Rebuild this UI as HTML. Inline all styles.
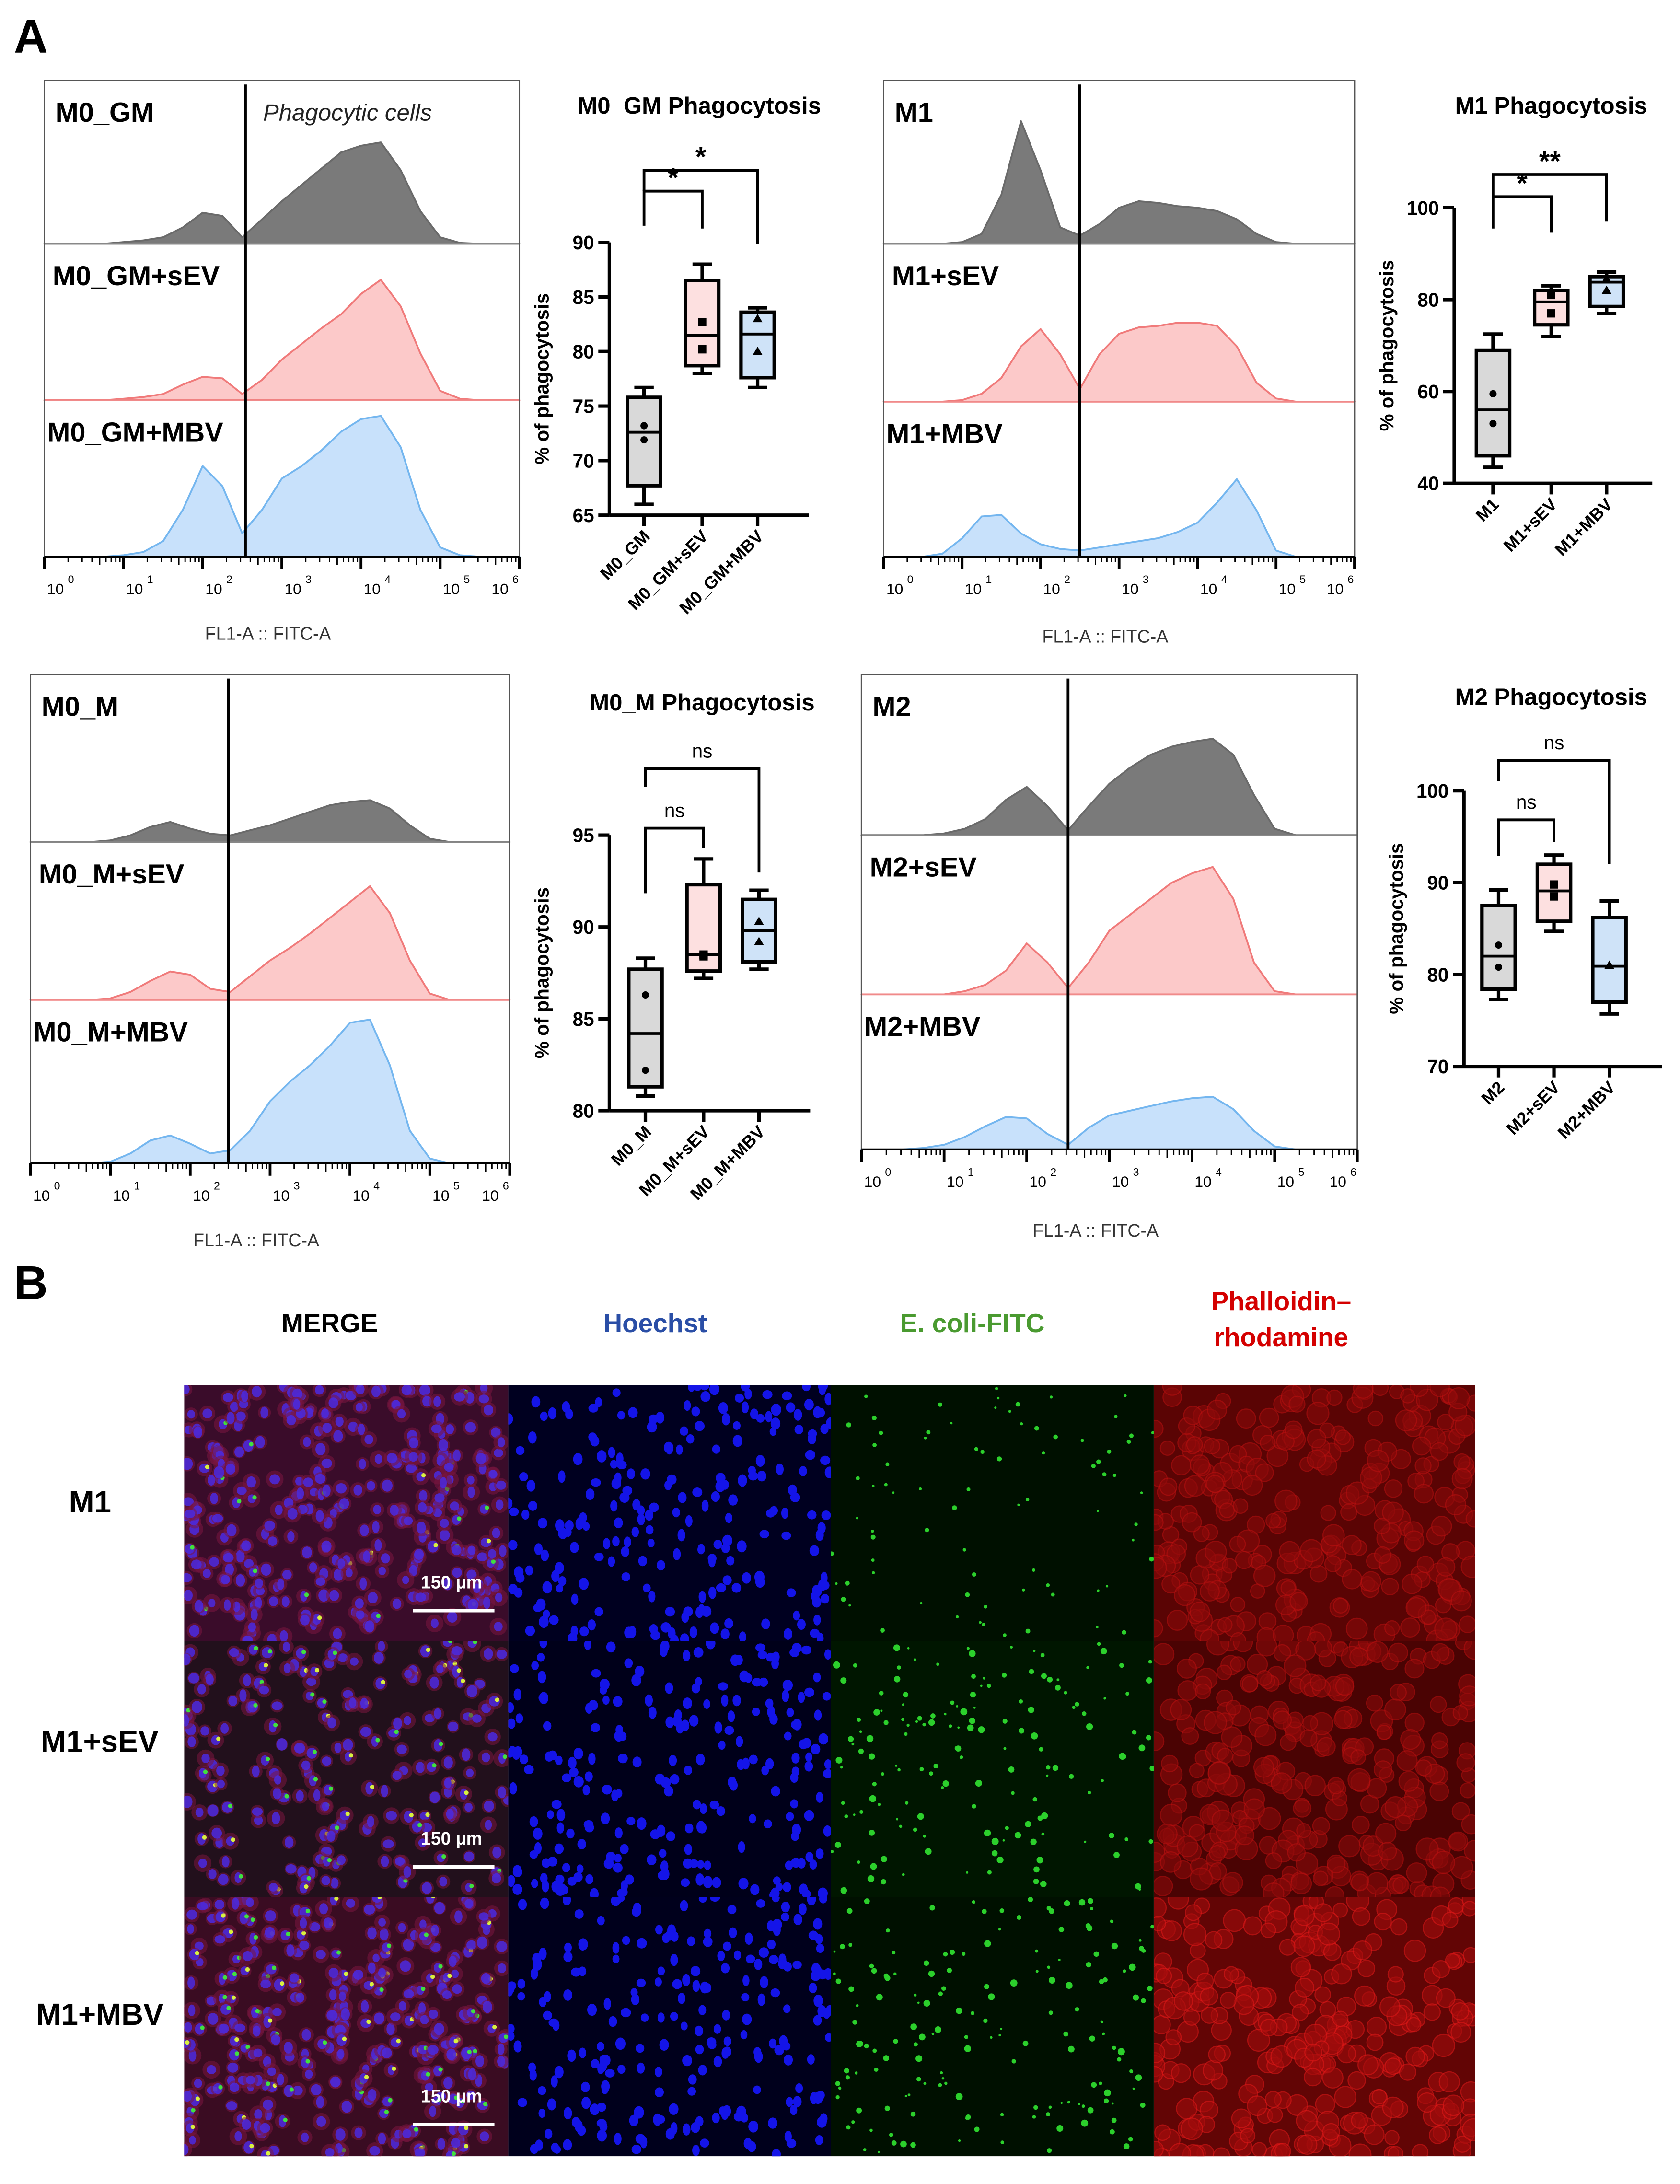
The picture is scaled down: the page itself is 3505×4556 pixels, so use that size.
<!DOCTYPE html>
<html><head><meta charset="utf-8">
<style>
html,body{margin:0;padding:0;background:#fff;}
svg{display:block;font-family:"Liberation Sans",Arial,sans-serif;}
</style></head>
<body>
<svg id="fig" xmlns="http://www.w3.org/2000/svg" width="3505" height="4556" viewBox="0 0 1213 1577" preserveAspectRatio="none">
<defs id="defs"></defs>
<rect x="0" y="0" width="1213" height="1577" fill="#fff"/>
<text x="10" y="38" font-size="34" font-weight="bold">A</text>
<text x="10" y="938" font-size="34" font-weight="bold">B</text>
<g id="charts"></g>
<g id="micro"></g>
</svg>
<script>
// ---------- Histogram data (fraction of sub-panel height at log10 = 0,0.25,...,6) ----------
const histGrid = [0,0.25,0.5,0.75,1,1.25,1.5,1.75,2,2.25,2.5,2.75,3,3.25,3.5,3.75,4,4.25,4.5,4.75,5,5.25,5.5,5.75,6];
const m0gmCtrl = [0,0,0,0,0.01,0.02,0.04,0.1,0.19,0.17,0.04,0.15,0.26,0.36,0.46,0.56,0.6,0.62,0.45,0.2,0.04,0.005,0,0,0];
const m0gmSev  = [0,0,0,0,0.01,0.02,0.04,0.1,0.15,0.14,0.04,0.13,0.26,0.36,0.46,0.55,0.68,0.77,0.6,0.3,0.06,0.01,0,0,0];
const m0gmMbv  = [0,0,0,0,0.01,0.03,0.1,0.3,0.58,0.45,0.15,0.3,0.5,0.58,0.68,0.8,0.88,0.9,0.7,0.3,0.06,0.01,0,0,0];
const m1Ctrl   = [0,0,0,0,0.01,0.06,0.3,0.75,0.45,0.1,0.05,0.12,0.22,0.26,0.25,0.23,0.22,0.2,0.15,0.06,0.01,0,0,0,0];
const m1Sev    = [0,0,0,0,0.01,0.05,0.15,0.35,0.46,0.3,0.08,0.3,0.43,0.47,0.48,0.5,0.5,0.48,0.35,0.12,0.02,0,0,0,0];
const m1Mbv    = [0,0,0,0.02,0.12,0.26,0.27,0.15,0.08,0.05,0.04,0.06,0.08,0.1,0.12,0.16,0.22,0.35,0.5,0.3,0.04,0,0,0,0];
const m0mCtrl  = [0,0,0,0,0.01,0.04,0.09,0.12,0.08,0.05,0.04,0.07,0.1,0.14,0.18,0.22,0.24,0.25,0.2,0.1,0.02,0,0,0,0];
const m0mSev   = [0,0,0,0,0.01,0.05,0.12,0.18,0.16,0.07,0.05,0.15,0.25,0.33,0.42,0.52,0.62,0.72,0.55,0.25,0.04,0,0,0,0];
const m0mMbv   = [0,0,0,0,0.01,0.06,0.14,0.17,0.12,0.06,0.08,0.2,0.38,0.5,0.6,0.72,0.86,0.88,0.6,0.2,0.03,0,0,0,0];
const m2Ctrl   = [0,0,0,0,0.01,0.04,0.1,0.22,0.3,0.18,0.03,0.18,0.32,0.42,0.5,0.55,0.58,0.6,0.5,0.25,0.04,0,0,0,0];
const m2Sev    = [0,0,0,0,0,0.02,0.06,0.15,0.32,0.2,0.04,0.2,0.4,0.5,0.6,0.7,0.76,0.8,0.6,0.2,0.02,0,0,0,0];
const m2Mbv    = [0,0,0,0.01,0.03,0.08,0.15,0.21,0.2,0.1,0.03,0.14,0.22,0.25,0.28,0.31,0.33,0.34,0.26,0.12,0.02,0,0,0,0];
const gateLog = [2.54, 2.5, 2.48, 2.5];

// ---------- Box plot data ----------
const m0gmGroups = ["M0_GM","M0_GM+sEV","M0_GM+MBV"];
const m0gmMin = [66,78,76.7], m0gmQ1=[67.7,78.7,77.6], m0gmMed=[72.6,81.5,81.6], m0gmQ3=[75.8,86.5,83.6], m0gmMax=[76.7,88,84];
const m0gmPts = [[73.2,71.9],[82.7,80.2],[83,80]];
const m0gmTicks = [90,85,80,75,70,65];
const m1Groups = ["M1","M1+sEV","M1+MBV"];
const m1Min=[43.5,72,77], m1Q1=[46,74.5,78.5], m1Med=[56,79.5,83.8], m1Q3=[69,82,85], m1Max=[72.5,83,86];
const m1Pts=[[59.5,53],[81,77],[84.5,82]];
const m1Ticks=[100,80,60,40];
const m0mGroups=["M0_M","M0_M+sEV","M0_M+MBV"];
const m0mMin=[80.8,87.2,87.7], m0mQ1=[81.3,87.6,88.1], m0mMed=[84.2,88.5,89.8], m0mQ3=[87.7,92.3,91.5], m0mMax=[88.3,93.7,92];
const m0mPts=[[86.3,82.2],[88.5,88.4],[90.3,89.2]];
const m0mTicks=[95,90,85,80];
const m2Groups=["M2","M2+sEV","M2+MBV"];
const m2Min=[77.3,84.7,75.7], m2Q1=[78.4,85.8,77], m2Med=[82,89.1,80.9], m2Q3=[87.5,92,86.2], m2Max=[89.2,93,88];
const m2Pts=[[83.2,80.8],[89.8,88.5],[81,81]];
const m2Ticks=[100,90,80,70];
const m0gmSig=["*","*"], m1Sig=["*","**"], m0mSig=["ns","ns"], m2Sig=["ns","ns"];

const NS="http://www.w3.org/2000/svg";
const root=document.getElementById('charts');
function mk(tag,attrs,parent){const e=document.createElementNS(NS,tag);for(const k in attrs)e.setAttribute(k,attrs[k]);(parent||root).appendChild(e);return e;}
function txt(x,y,s,attrs,parent){const t=mk('text',Object.assign({x:x,y:y},attrs),parent);t.textContent=s;return t;}

const fillC=["#7a7a7a","#fcc9c9","#c8e1fb"], strokeC=["#6a6a6a","#f07a7a","#74b6ef"];

function histPanel(name,box,divs,curves,labels,gate,xlabelY){
  const g=mk('g',{});
  
  
  const [x0,y0,x1,y1]=box;
  const dec=(x1-x0)/6;
  const xs=v=>x0+v*dec;
  const tops=[y0,divs[0],divs[1]], bots=[divs[0],divs[1],y1];
  for(let i=0;i<3;i++){
    const h=bots[i]-tops[i];
    let d='M'+xs(histGrid[0])+','+bots[i];
    const c=curves[i];
    for(let j=0;j<histGrid.length;j++) d+=' L'+xs(histGrid[j]).toFixed(1)+','+(bots[i]-c[j]*h).toFixed(1);
    d+=' L'+xs(6)+','+bots[i]+' Z';
    const p=mk('path',{d:d,fill:fillC[i],stroke:strokeC[i],'stroke-width':1.3,'stroke-linejoin':'round'},g);
    
    
    const t=txt(x0+(i==0?8:6)-(i==2?4:0),tops[i]+30,labels[i],{'font-size':20,'font-weight':'bold'},g);
    
    
  }
  mk('line',{x1:x0,x2:x1,y1:divs[0],y2:divs[0],stroke:'#888','stroke-width':1},g);
  mk('line',{x1:x0,x2:x1,y1:divs[1],y2:divs[1],stroke:'#f08a8a','stroke-width':1},g);
  mk('rect',{x:x0,y:y0,width:x1-x0,height:y1-y0,fill:'none',stroke:'#555','stroke-width':1},g);
  const gl=mk('line',{x1:xs(gate),x2:xs(gate),y1:y0+3,y2:y1,stroke:'#000','stroke-width':2},g);
  
  
  mk('line',{x1:x0,x2:x1,y1:y1,y2:y1,stroke:'#000','stroke-width':1.5},g);
  for(let k=0;k<=6;k++){
    mk('line',{x1:xs(k),x2:xs(k),y1:y1,y2:y1+9,stroke:'#000','stroke-width':2},g);
    if(k<6){for(let m=2;m<=9;m++){const xx=xs(k+Math.log10(m));mk('line',{x1:xx,x2:xx,y1:y1,y2:y1+(m==5?6:4),stroke:'#000','stroke-width':1},g);}}
    const lx=k==6?xs(k)-14:xs(k)+8;
    const t=txt(lx,y1+27,'10',{'font-size':11,'text-anchor':'middle'},g);
    
    
    txt(lx+9,y1+19,String(k),{'font-size':8},g);
  }
  const xl=txt((x0+x1)/2-10,xlabelY,'FL1-A :: FITC-A',{'font-size':13,'text-anchor':'middle',fill:'#333'},g);
  
  
  return {g,xs};
}

function boxPanel(name,title,titleXY,ax,groups,mins,q1s,meds,q3s,maxs,pts,ticks,sig,brk){
  const g=mk('g',{});
  
  
  const {x,yTop,yBot,vTop,vBot,cats,xEnd}=ax;
  const ys=v=>yBot-(v-vBot)/(vTop-vBot)*(yBot-yTop);
  const tt=txt(titleXY[0],titleXY[1],title,{'font-size':17,'font-weight':'bold','text-anchor':'middle'},g);
  
  
  mk('line',{x1:x,x2:x,y1:ys(vTop),y2:yBot,stroke:'#000','stroke-width':2.5},g);
  mk('line',{x1:x,x2:xEnd,y1:yBot,y2:yBot,stroke:'#000','stroke-width':2.5},g);
  ticks.forEach(v=>{
    mk('line',{x1:x-8,x2:x,y1:ys(v),y2:ys(v),stroke:'#000','stroke-width':2.5},g);
    const t=txt(x-11,ys(v)+5,String(v),{'font-size':14,'font-weight':'bold','text-anchor':'end'},g);
    
    
  });
  const yt=txt(0,0,'% of phagocytosis',{'font-size':14,'font-weight':'bold','text-anchor':'middle',transform:`translate(${x-44},${(yTop+yBot)/2}) rotate(-90)`},g);
  
  
  const bf=["#d9d9d9","#fde0e0","#cfe3f8"];
  const w=24;
  groups.forEach((gn,i)=>{
    const cx=cats[i];
    mk('line',{x1:cx,x2:cx,y1:yBot,y2:yBot+8,stroke:'#000','stroke-width':2.5},g);
    const lb=txt(0,0,gn,{'font-size':12.5,'font-weight':'bold','text-anchor':'end',transform:`translate(${cx+5},${yBot+16}) rotate(-45)`},g);
    
    
    mk('line',{x1:cx,x2:cx,y1:ys(maxs[i]),y2:ys(mins[i]),stroke:'#000','stroke-width':2.5},g);
    mk('line',{x1:cx-7,x2:cx+7,y1:ys(maxs[i]),y2:ys(maxs[i]),stroke:'#000','stroke-width':2.5},g);
    mk('line',{x1:cx-7,x2:cx+7,y1:ys(mins[i]),y2:ys(mins[i]),stroke:'#000','stroke-width':2.5},g);
    const b=mk('rect',{x:cx-w/2,y:ys(q3s[i]),width:w,height:ys(q1s[i])-ys(q3s[i]),fill:bf[i],stroke:'#000','stroke-width':2.5},g);
    
    
    mk('line',{x1:cx-w/2,x2:cx+w/2,y1:ys(meds[i]),y2:ys(meds[i]),stroke:'#000','stroke-width':2},g);
    pts[i].forEach(v=>{
      const py=ys(v);
      let m;
      if(i==0) m=mk('circle',{cx:cx,cy:py,r:2.6,fill:'#000'},g);
      else if(i==1) m=mk('rect',{x:cx-3,y:py-3,width:6,height:6,fill:'#000'},g);
      else m=mk('path',{d:`M${cx},${py-3.5} L${cx+3.5},${py+2.5} L${cx-3.5},${py+2.5} Z`,fill:'#000'},g);
      
      
    });
  });
  const pairs=[[0,1],[0,2]];
  pairs.forEach((pr,k)=>{
    const [lvl,le,re]=brk[k];
    const xa=cats[pr[0]], xb=cats[pr[1]];
    const pth=mk('path',{d:`M${xa},${le} L${xa},${lvl} L${xb},${lvl} L${xb},${re}`,fill:'none',stroke:'#000','stroke-width':2},g);
    
    
    const isStar=sig[k].indexOf('*')>=0;
    const st=txt((xa+xb)/2,isStar?lvl-3:lvl-8,sig[k],{'font-size':isStar?20:14,'font-weight':isStar?'bold':'normal','text-anchor':'middle'},g);
    
    
  });
}

histPanel('m0-gm',[32,58,375,402],[176,289],[m0gmCtrl,m0gmSev,m0gmMbv],['M0_GM','M0_GM+sEV','M0_GM+MBV'],gateLog[0],462);
txt(190,87,'Phagocytic cells',{'font-size':17,'font-style':'italic',fill:'#222'});
histPanel('m1',[638,58,978,402],[176,290],[m1Ctrl,m1Sev,m1Mbv],['M1','M1+sEV','M1+MBV'],gateLog[1],464);
histPanel('m0-m',[22,487,368,840],[608,722],[m0mCtrl,m0mSev,m0mMbv],['M0_M','M0_M+sEV','M0_M+MBV'],gateLog[2],900);
histPanel('m2',[622,487,980,830],[603,718],[m2Ctrl,m2Sev,m2Mbv],['M2','M2+sEV','M2+MBV'],gateLog[3],893);

boxPanel('m0-gm','M0_GM Phagocytosis',[505,82],{x:440,yTop:175,yBot:372,vTop:90,vBot:65,cats:[465,507,547],xEnd:584},
  m0gmGroups,m0gmMin,m0gmQ1,m0gmMed,m0gmQ3,m0gmMax,m0gmPts,m0gmTicks,m0gmSig,[[138,163,165],[123,138,176]]);
boxPanel('m1','M1 Phagocytosis',[1120,82],{x:1050,yTop:150,yBot:349,vTop:100,vBot:40,cats:[1078,1120,1160],xEnd:1193},
  m1Groups,m1Min,m1Q1,m1Med,m1Q3,m1Max,m1Pts,m1Ticks,m1Sig,[[142,165,168],[126,142,160]]);
boxPanel('m0-m','M0_M Phagocytosis',[507,513],{x:440,yTop:603,yBot:802,vTop:95,vBot:80,cats:[466,508,548],xEnd:585},
  m0mGroups,m0mMin,m0mQ1,m0mMed,m0mQ3,m0mMax,m0mPts,m0mTicks,m0mSig,[[598,645,612],[555,568,630]]);
boxPanel('m2','M2 Phagocytosis',[1120,509],{x:1057,yTop:571,yBot:770,vTop:100,vBot:70,cats:[1082,1122,1162],xEnd:1200},
  m2Groups,m2Min,m2Q1,m2Med,m2Q3,m2Max,m2Pts,m2Ticks,m2Sig,[[592,618,608],[549,564,624]]);

// ---------- Microscopy panel (decorative texture) ----------
const mg=document.getElementById('micro');
const defs=document.getElementById('defs');
const headers=[["MERGE",238,"#000"],["Hoechst",473,"#2a4ea6"],["E. coli-FITC",702,"#4a9a30"]];
headers.forEach(h=>{const t=txt(h[1],962,h[0],{'font-size':19,'font-weight':'bold','text-anchor':'middle',fill:h[2]},mg);});
const ph=txt(925,946,'Phalloidin–',{'font-size':19,'font-weight':'bold','text-anchor':'middle',fill:'#d40000'},mg);

txt(925,972,'rhodamine',{'font-size':19,'font-weight':'bold','text-anchor':'middle',fill:'#d40000'},mg);
const rowLabels=[["M1",65,1092],["M1+sEV",72,1265],["M1+MBV",72,1462]];
rowLabels.forEach(r=>{const t=txt(r[1],r[2],r[0],{'font-size':22,'font-weight':'bold','text-anchor':'middle'},mg);});
const colX=[133,367,600,833,1065], rowY=[1000,1185,1370,1557];
let seed=12345;function rnd(){seed=(seed*1103515245+12345)%2147483648;return seed/2147483648;}
const bgs=[["#3a0c2a","#22101c","#3a0c22"],["#000020","#00001a","#00001c"],["#001000","#001600","#001000"],["#5a0404","#4a0303","#620505"]];
for(let r=0;r<3;r++)for(let c=0;c<4;c++){
  const x0=colX[c],x1=colX[c+1],y0=rowY[r],y1=rowY[r+1];
  const cp=mk('clipPath',{id:'cp'+r+c},defs);
  mk('rect',{x:x0,y:y0,width:x1-x0,height:y1-y0},cp);
  const cell=mk('g',{'clip-path':'url(#cp'+r+c+')'},mg);
  
  
  mk('rect',{x:x0,y:y0,width:x1-x0,height:y1-y0,fill:bgs[c][r]},cell);
  const n=c==0?(r==1?200:320):(c==2?170:(c==3?280:230));
  for(let i=0;i<n;i++){
    const px=x0+rnd()*(x1-x0),py=y0+rnd()*(y1-y0);
    if(c==0){
      mk('circle',{cx:px,cy:py,r:4.5+rnd()*2,fill:'#7a1640',opacity:0.55},cell);
      mk('ellipse',{cx:px,cy:py,rx:2.5+rnd()*1.5,ry:3+rnd()*1.5,fill:'#4a2ae0',opacity:0.85},cell);
      if(rnd()<(r==0?0.12:0.35)) mk('circle',{cx:px+2,cy:py-1,r:1.6,fill:rnd()<0.5?'#d8f040':'#40e040'},cell);
    }else if(c==1){
      mk('ellipse',{cx:px,cy:py,rx:2.5+rnd()*1.2,ry:3+rnd()*1.5,fill:'#1414e8'},cell);
    }else if(c==2){
      if(rnd()<(r==0?0.5:0.9)) mk('circle',{cx:px,cy:py,r:0.8+rnd()*(r==0?1:1.8),fill:'#2cd02c'},cell);
    }else{
      mk('circle',{cx:px,cy:py,r:5+rnd()*3,fill:r==2?'#a00c0c':'#8a0a0a',stroke:r==2?'#e01818':'#b81010','stroke-width':0.8,opacity:0.6},cell);
    }
  }
}
const sb=[[1147,1163],[1332,1348],[1518,1534]];
sb.forEach(s=>{
  const t=txt(326,s[0],'150 µm',{'font-size':13,'font-weight':'bold','text-anchor':'middle',fill:'#fff'},mg);
  
  const l=mk('line',{x1:298,x2:357,y1:s[1],y2:s[1],stroke:'#fff','stroke-width':2.5},mg);
  
});
</script>
</body></html>
